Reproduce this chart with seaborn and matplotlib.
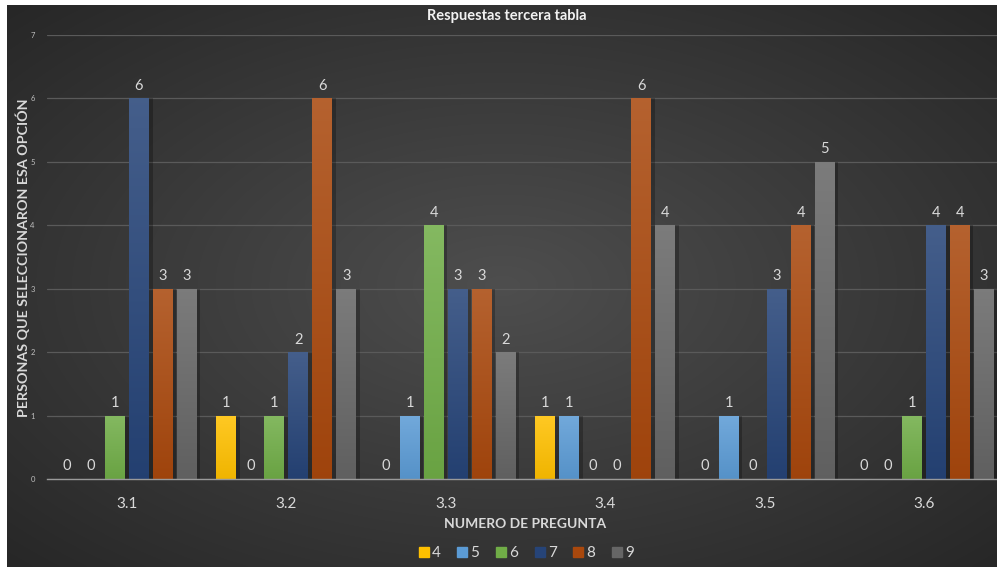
import numpy as np
import pandas as pd
import matplotlib
matplotlib.use("Agg")
import matplotlib.pyplot as plt
import matplotlib.colors as mcolors
from matplotlib.lines import Line2D
import seaborn as sns

# Survey answers: how many people chose each option, per question
preguntas = ["3.1", "3.2", "3.3", "3.4", "3.5", "3.6"]
opciones = ["4", "5", "6", "7", "8", "9"]
resp_4 = [0, 1, 0, 1, 0, 0]
resp_5 = [0, 0, 1, 1, 1, 0]
resp_6 = [1, 1, 4, 0, 0, 1]
resp_7 = [6, 2, 3, 0, 3, 4]
resp_8 = [3, 6, 3, 6, 4, 4]
resp_9 = [3, 3, 2, 4, 5, 3]

colores = ["#FFC000", "#5B9BD5", "#70AD47", "#264478", "#A9480D", "#666666"]

series = [resp_4, resp_5, resp_6, resp_7, resp_8, resp_9]
rows = []
for opt, vals in zip(opciones, series):
    for q, v in zip(preguntas, vals):
        rows.append({"Pregunta": q, "Opcion": opt, "Personas": v})
df = pd.DataFrame(rows)

sns.set_theme(style="dark")
plt.rcParams["font.family"] = ["Lato", "DejaVu Sans"]

W, H = 997, 567
fig = plt.figure(figsize=(W / 100, H / 100), dpi=100)
fig.patch.set_facecolor("white")

# Dark radial-gradient chart area
bg = fig.add_axes([7 / W, 0, 1 - 7 / W, 1 - 5 / H])
bg.set_axis_off()
yy, xx = np.mgrid[-1:1:300j, -1:1:500j]
r = np.sqrt(xx ** 2 + yy ** 2) / np.sqrt(2)
c_in = np.array(mcolors.to_rgb("#4e4e4e"))
c_out = np.array(mcolors.to_rgb("#272727"))
img = c_in[None, None, :] * (1 - r[..., None]) + c_out[None, None, :] * r[..., None]
bg.imshow(img, aspect="auto", extent=[0, 1, 0, 1], interpolation="bicubic")
bg.set_xlim(0, 1)
bg.set_ylim(0, 1)

# Plot area runs slightly past the right edge of the canvas
left, right = 47.3 / W, 1003.7 / W
bottom, top = (H - 479) / H, (H - 35) / H
ax = fig.add_axes([left, bottom, right - left, top - bottom])
ax.set_facecolor("none")

sns.barplot(data=df, x="Pregunta", y="Personas", hue="Opcion",
            palette=colores, width=0.903, ax=ax, legend=True, saturation=1)

ax.grid(axis="y", color="#5a5a5a", linewidth=0.9)
ax.grid(axis="x", visible=False)
ax.set_axisbelow(True)
for s in ["top", "right", "left"]:
    ax.spines[s].set_visible(False)
ax.spines["bottom"].set_color("#9a9a9a")
ax.spines["bottom"].set_linewidth(1.0)
ax.spines["bottom"].set_zorder(5)

bar_w = 20 / 159.4


def lighten(c, f):
    c = np.array(mcolors.to_rgb(c))
    return c + (1 - c) * f


def darken(c, f):
    return np.array(mcolors.to_rgb(c)) * (1 - f)


for cont, col in zip(ax.containers, colores):
    for p in cont.patches:
        cx = p.get_x() + p.get_width() / 2
        p.set_x(cx - bar_w / 2)
        p.set_width(bar_w)
        p.set_linewidth(0)
        p.set_edgecolor("none")
        h = p.get_height()
        if h <= 0:
            p.set_facecolor("none")
            continue
        # subtle right-hand shadow
        ax.add_patch(plt.Rectangle((cx + bar_w / 2, 0), 0.022, h,
                                   facecolor="#000000", alpha=0.25,
                                   linewidth=0, zorder=2))
        top_c = lighten(col, 0.14)
        bot_c = darken(col, 0.06)
        t = np.linspace(0, 1, 64)[:, None, None]
        grad = bot_c[None, None, :] * (1 - t) + top_c[None, None, :] * t
        im = ax.imshow(grad, extent=[cx - bar_w / 2, cx + bar_w / 2, 0, h],
                       origin="lower", aspect="auto", zorder=3,
                       interpolation="bilinear")
        im.set_clip_path(p)
        p.set_facecolor("none")
        p.set_zorder(3)
    ax.bar_label(cont, labels=[f"{int(v)}" for v in cont.datavalues],
                 padding=4, color="#d9d9d9", fontsize=10.5)

ax.set_xlim(-0.5, 5.5)
ax.set_ylim(0, 7)
ax.set_yticks(range(0, 8))
ax.set_aspect("auto")

ax.tick_params(axis="y", labelsize=5.5, colors="#bfbfbf", length=0, pad=9)
ax.tick_params(axis="x", labelsize=11, colors="#d9d9d9", length=0, pad=13)

ax.set_xlabel("NUMERO DE PREGUNTA", fontsize=10, fontweight="bold",
              color="#d9d9d9", labelpad=5)
ax.set_ylabel("")
fig.text(23 / W, 1 - 258 / H, "PERSONAS QUE SELECCIONARON ESA OPCIÓN",
         rotation=90, ha="center", va="center", fontsize=10.3,
         fontweight="bold", color="#d9d9d9")

fig.text(507 / W, 1 - 16 / H, "Respuestas tercera tabla", ha="center",
         va="center", fontsize=10.5, fontweight="bold", color="#f2f2f2")

ax.get_legend().remove()
proxies = [Line2D([], [], marker="s", linestyle="none", markersize=6.5,
                  markerfacecolor=c, markeredgecolor=c) for c in colores]
fig.legend(proxies, opciones, loc="center", bbox_to_anchor=(525 / W, 1 - 553 / H),
           ncol=6, frameon=False, fontsize=11, labelcolor="#d9d9d9",
           handletextpad=0.05, columnspacing=0.9, handlelength=1.0)

fig.savefig("out.png", dpi=100, facecolor=fig.get_facecolor())
